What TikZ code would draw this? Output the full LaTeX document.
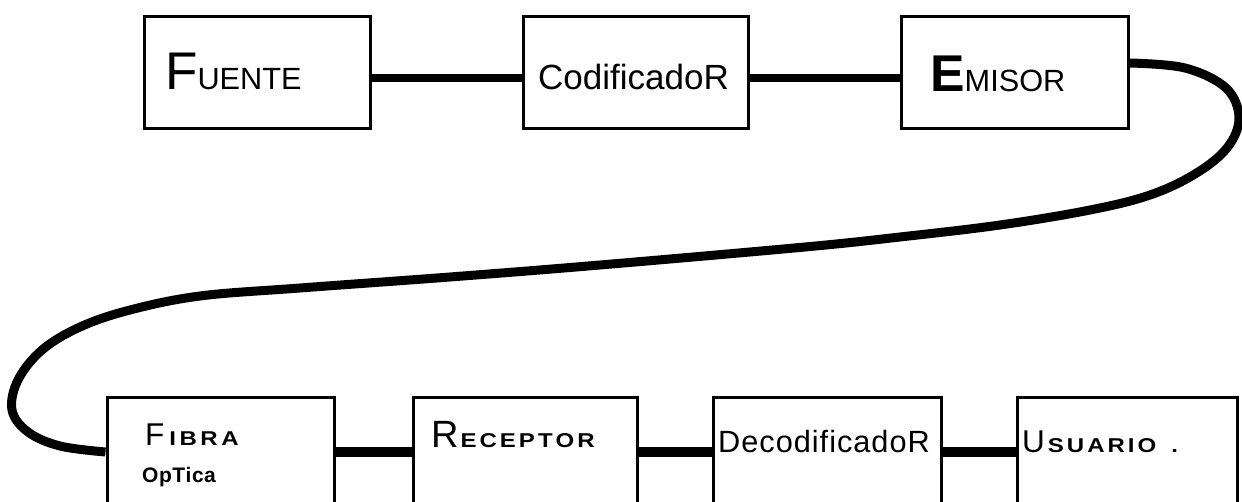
\documentclass[tikz,border=0pt]{standalone}
\usepackage{fontspec}
\setmainfont{Liberation Sans}
\newfontfamily\widesf[FakeStretch=1.2]{Liberation Sans}
\makeatletter
\newcommand\lsp[2]{\@tfor\lspch:=#2\do{\lspch\kern#1}}
\makeatother
\newcommand\setfs[1]{\fontsize{#1pt}{#1pt}\selectfont}
\begin{document}
\begin{tikzpicture}[x=1pt,y=-1pt,
  blk/.style={draw, line width=3pt, rectangle, inner sep=0pt, minimum height=#1},
  blk/.default=112pt,
  lbl/.style={anchor=base west, inner sep=0pt},
  link/.style={line width=8.5pt},
  linkb/.style={line width=10pt},
  fiber/.style={line width=9pt, line join=round}]
\useasboundingbox (0,0) rectangle (1242,502);
\fill[white] (0,0) rectangle (1242,502);
\clip (0,0) rectangle (1242,502);
% top row
\node[blk, minimum width=226pt] (fuente) at (257.5,73) {};
\node[blk, minimum width=225pt] (cod)    at (635.5,73) {};
\node[blk, minimum width=227pt] (emisor) at (1014.5,73) {};
% bottom row
\node[blk=110pt, minimum width=227pt] (fibra)    at (220.5,452) {};
\node[blk=110pt, minimum width=224pt] (receptor) at (525,452) {};
\node[blk=110pt, minimum width=228pt] (decod)    at (827.5,452) {};
\node[blk=110pt, minimum width=220pt] (usuario)  at (1127.5,452) {};
% labels
\node[lbl] (tfuente) at (165,90) {{\setfs{53}F}{\setfs{30.7}UENTE}};
\node[lbl] (tcod) at (538,90) {\setfs{35}CodificadoR};
\node[lbl] (temisor) at (930,92) {{\setfs{51.7}\bfseries E}{\setfs{30.7}MISOR}};
\node[lbl] (tfibra) at (145,445) {{\setfs{31.5}F\kern5pt}{\widesf\bfseries\setfs{20}\lsp{3.5pt}{IBRA}}};
\node[lbl] (toptica) at (142,482) {\bfseries\setfs{21}\lsp{0.5pt}{OpTica}};
\node[lbl] (treceptor) at (431,447) {{\setfs{38}R\kern2pt}{\widesf\bfseries\setfs{20}\lsp{3pt}{ECEPTOR}}};
\node[lbl] (tdecod) at (718,452) {\setfs{30.7}\lsp{1pt}{DecodificadoR}};
\node[lbl] (tusuario) at (1022,452) {{\setfs{31.5}U\kern3pt}{\widesf\bfseries\setfs{20}\lsp{3pt}{SUARIO}\kern12pt.}};
% connectors
\draw[link] ([yshift=-5pt]fuente.east) -- ([yshift=-5pt]fuente.east -| cod.west);
\draw[link] ([yshift=-5pt]cod.east) -- ([yshift=-5pt]cod.east -| emisor.west);
\draw[linkb] (fibra.east) -- (receptor.west);
\draw[linkb] (receptor.east) -- (decod.west);
\draw[linkb] (decod.east) -- (usuario.west);
% fiber
\coordinate (fs) at ([yshift=10pt]emisor.east);
\coordinate (fe) at (fibra.west);
\draw[fiber] plot[smooth, tension=0.6] coordinates {(fs) (1185,68) (1226,88) (1239,118) (1227,148) (1195,174) (1150,195) (1090,210) (1000,225) (900,237) (805,247) (600,265) (450,277) (300,288) (200,296) (130,310) (80,327) (42,350) (18,380) (12,410) (28,432) (60,446) (fe)};
\end{tikzpicture}
\end{document}
